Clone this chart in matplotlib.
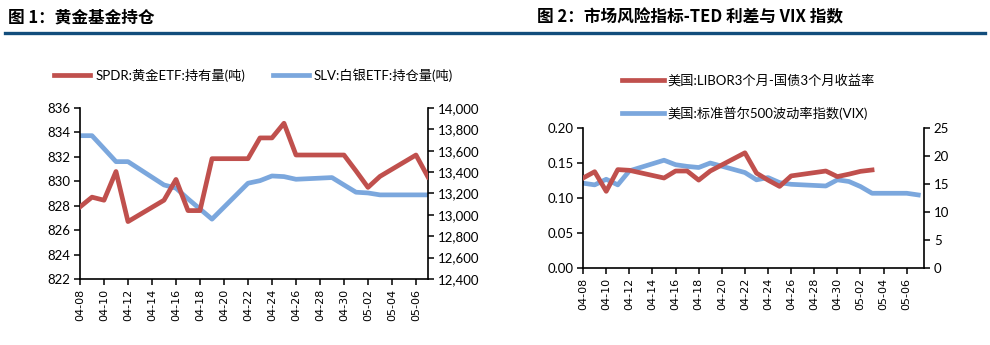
import matplotlib.pyplot as plt
import matplotlib.dates as mdates
from matplotlib.ticker import FuncFormatter
import numpy as np
import pandas as pd

plt.rcParams['font.family'] = ['Lato', 'Noto Sans CJK SC', 'DejaVu Sans']

# data
dates = pd.to_datetime(['2019-04-08', '2019-04-09', '2019-04-10', '2019-04-11', '2019-04-12',
                        '2019-04-15', '2019-04-16', '2019-04-17', '2019-04-18', '2019-04-19',
                        '2019-04-22', '2019-04-23', '2019-04-24', '2019-04-25', '2019-04-26',
                        '2019-04-29', '2019-04-30', '2019-05-01', '2019-05-02', '2019-05-03',
                        '2019-05-06', '2019-05-07'])
spdr = [827.9, 828.7, 828.45, 830.8, 826.7,
        828.45, 830.15, 827.6, 827.6, 831.85,
        831.85, 833.55, 833.55, 834.75, 832.15,
        832.15, 832.15, 830.85, 829.5, 830.4,
        832.15, 830.35]
slv = [13741, 13741, 13620, 13498, 13498,
       13280, 13250, 13150, 13055, 12960,
       13296, 13320, 13364, 13358, 13333,
       13349, 13280, 13212, 13205, 13187,
       13187, 13187]
ted = [0.129, 0.138, 0.110, 0.141, 0.140,
       0.129, 0.139, 0.139, 0.126, 0.139,
       0.165, 0.136, 0.126, 0.117, 0.132,
       0.139, 0.131, 0.1345, 0.1385, 0.1405,
       np.nan, np.nan]
vix = [15.2, 14.9, 15.9, 14.9, 17.4,
       19.3, 18.5, 18.2, 18.0, 18.8,
       17.1, 15.8, 16.2, 15.3, 15.0,
       14.7, 15.8, 15.5, 14.6, 13.4,
       13.4, 13.1]
tick_dates = pd.date_range('2019-04-08', '2019-05-06', freq='2D')

title1 = '图 1：黄金基金持仓'
title2 = '图 2：市场风险指标-TED 利差与 VIX 指数'
lab_spdr = 'SPDR:黄金ETF:持有量(吨)'
lab_slv = 'SLV:白银ETF:持仓量(吨)'
lab_ted = '美国:LIBOR3个月-国债3个月收益率'
lab_vix = '美国:标准普尔500波动率指数(VIX)'

red = '#C0504D'
blue = '#7BA7DD'
lw = 3.4

fig = plt.figure(figsize=(9.9, 3.45), dpi=100)

# header titles and rule
fig.text(0.008, 0.948, title1, fontsize=12, fontweight='bold', va='center',
         family=['Noto Sans CJK SC', 'DejaVu Sans'])
fig.text(0.542, 0.948, title2, fontsize=12, fontweight='bold', va='center',
         family=['Noto Sans CJK SC', 'DejaVu Sans'])
fig.add_artist(plt.Line2D([0.005, 0.995], [0.904, 0.904], color='#124D7C', lw=2.4))


def style_axes(ax, ax2):
    for a in (ax, ax2):
        a.spines['top'].set_visible(False)
        for s in a.spines.values():
            s.set_linewidth(1.2)
        a.tick_params(axis='y', length=4, width=1.1, labelsize=9.5, pad=3)
    ax.spines['right'].set_visible(False)
    ax2.spines['left'].set_visible(False)
    ax2.spines['bottom'].set_visible(False)
    ax.set_xticks(tick_dates)
    ax.xaxis.set_major_formatter(mdates.DateFormatter('%m-%d'))
    ax.tick_params(axis='x', length=4, width=1.1, labelsize=8, labelrotation=90, pad=3)
    for t in ax.get_xticklabels():
        t.set_family('DejaVu Sans')


# left chart: gold ETF holdings
ax1 = fig.add_axes([0.0808, 0.1913, 0.3515, 0.4957])
ax1b = ax1.twinx()
l1, = ax1.plot(dates, spdr, color=red, lw=lw, zorder=3)
l2, = ax1b.plot(dates, slv, color=blue, lw=lw, zorder=2)
ax1.set_zorder(ax1b.get_zorder() + 1)
ax1.patch.set_visible(False)
ax1.set_ylim(822, 836)
ax1.set_yticks(np.arange(822, 837, 2))
ax1b.set_ylim(12400, 14000)
ax1b.set_yticks(np.arange(12400, 14001, 200))
ax1b.yaxis.set_major_formatter(FuncFormatter(lambda v, p: f'{v:,.0f}'))
ax1.set_xlim(dates[0], dates[-1])
style_axes(ax1, ax1b)

fig.legend([l1, l2], [lab_spdr, lab_slv], loc='center left', bbox_to_anchor=(0.055, 0.782),
           ncol=2, frameon=False, fontsize=9.5, handlelength=2.7, handletextpad=0.4,
           columnspacing=2.1, borderpad=0, borderaxespad=0)

# right chart: TED spread and VIX
ax2 = fig.add_axes([0.589, 0.2223, 0.3444, 0.4058])
ax2b = ax2.twinx()
l3, = ax2.plot(dates, ted, color=red, lw=lw, zorder=3)
l4, = ax2b.plot(dates, vix, color=blue, lw=lw, zorder=2)
ax2.set_zorder(ax2b.get_zorder() + 1)
ax2.patch.set_visible(False)
ax2.set_ylim(0, 0.20)
ax2.set_yticks(np.arange(0, 0.201, 0.05))
ax2.yaxis.set_major_formatter(FuncFormatter(lambda v, p: f'{v:.2f}'))
ax2b.set_ylim(0, 25)
ax2b.set_yticks(np.arange(0, 26, 5))
ax2.set_xlim(dates[0], dates[-1] + pd.Timedelta(hours=12))
style_axes(ax2, ax2b)

fig.legend([l3, l4], [lab_ted, lab_vix], loc='center left', bbox_to_anchor=(0.628, 0.719),
           ncol=1, frameon=False, fontsize=9.5, handlelength=3.2, handletextpad=0.25,
           labelspacing=1.45, borderpad=0, borderaxespad=0)

fig.savefig('out.png', dpi=100)
